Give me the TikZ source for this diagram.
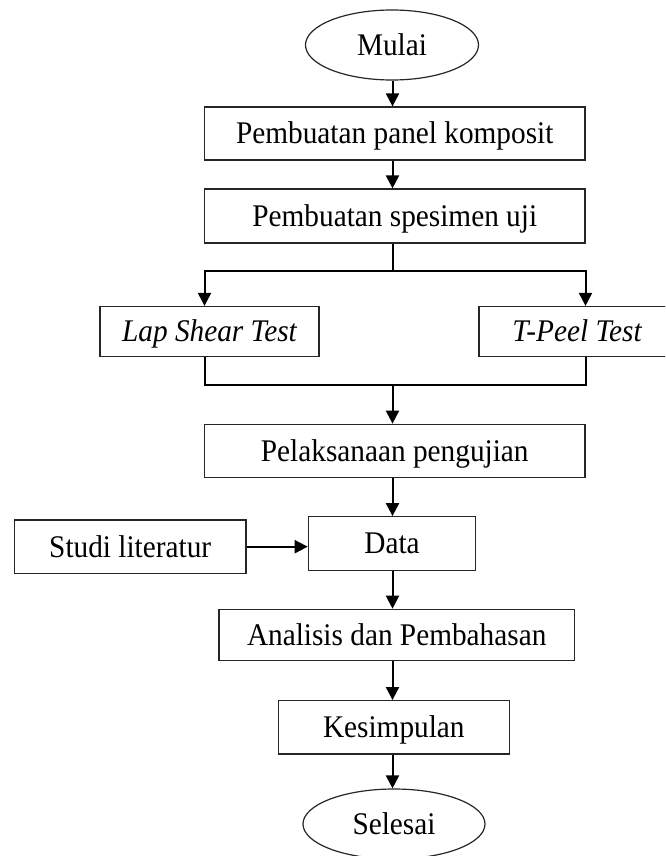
\documentclass[tikz,border=0pt]{standalone}
\usepackage{fontspec}
\setmainfont{Liberation Serif}[FakeStretch=0.93]
\usetikzlibrary{arrows.meta,shapes.geometric}
\begin{document}
\begin{tikzpicture}[x=1pt,y=-1pt,
  txt/.style={font=\fontsize{31.5}{36}\selectfont,text height=27.2pt,text depth=6.3pt},
  box/.style={txt,draw=black!85,line width=1.2pt,rectangle,inner sep=0pt},
  oval/.style={txt,draw=black!85,line width=1.2pt,ellipse,inner sep=0pt},
  conn/.style={line width=2pt,line join=miter},
  arr/.style={conn,-{Triangle[width=13pt,length=13pt]}}]
\clip (0,0) rectangle (665,856);
\coordinate (axis) at (392.5,0);
\node[oval,minimum width=173pt,minimum height=70pt] (mulai) at (392,45) {Mulai};
\node[box,minimum width=380.5pt,minimum height=53pt] (b1) at (394.75,133.5) {Pembuatan panel komposit};
\node[box,minimum width=380.5pt,minimum height=54pt] (b2) at (394.75,216) {Pembuatan spesimen uji};
\node[box,minimum width=219pt,minimum height=50pt] (lap) at (209.5,331.5) {\itshape Lap Shear Test};
\node[box,minimum width=196pt,minimum height=50pt] (tpeel) at (577,331.5) {\itshape T-Peel Test};
\node[box,minimum width=380.5pt,minimum height=53.5pt] (b3) at (394.75,451) {Pelaksanaan pengujian};
\node[box,minimum width=167.4pt,minimum height=53.6pt] (data) at (392,543.5) {Data};
\node[box,minimum width=231.7pt,minimum height=53.3pt] (studi) at (130.2,546.7) {Studi literatur};
\node[box,minimum width=355.3pt,minimum height=51.4pt] (anal) at (396.7,635) {Analisis dan Pembahasan};
\node[box,minimum width=231pt,minimum height=53.3pt] (kes) at (393.8,727.3) {Kesimpulan};
\node[oval,minimum width=182pt,minimum height=70pt] (sel) at (394,824) {Selesai};
\coordinate (sl) at (204.5,270.5);
\coordinate (sr) at (585.5,270.5);
\coordinate (ml) at (204.5,384.5);
\coordinate (mr) at (585.5,384.5);
\draw[arr] (mulai.south -| axis) -- (b1.north -| axis);
\draw[arr] (b1.south -| axis) -- (b2.north -| axis);
\draw[conn] (b2.south -| axis) -- (axis |- sl);
\draw[arr] (axis |- sl) -| (sl |- lap.north);
\draw[arr] (axis |- sr) -| (sr |- tpeel.north);
\draw[conn] (ml |- lap.south) -- (ml) -- (mr) -- (mr |- tpeel.south);
\draw[arr] (axis |- ml) -- (b3.north -| axis);
\draw[arr] (b3.south -| axis) -- (data.north -| axis);
\draw[arr] (studi.east) -- (data.west |- studi.east);
\draw[arr] (data.south -| axis) -- (anal.north -| axis);
\draw[arr] (anal.south -| axis) -- (kes.north -| axis);
\draw[arr] (kes.south -| axis) -- (sel.north -| axis);
\end{tikzpicture}
\end{document}
